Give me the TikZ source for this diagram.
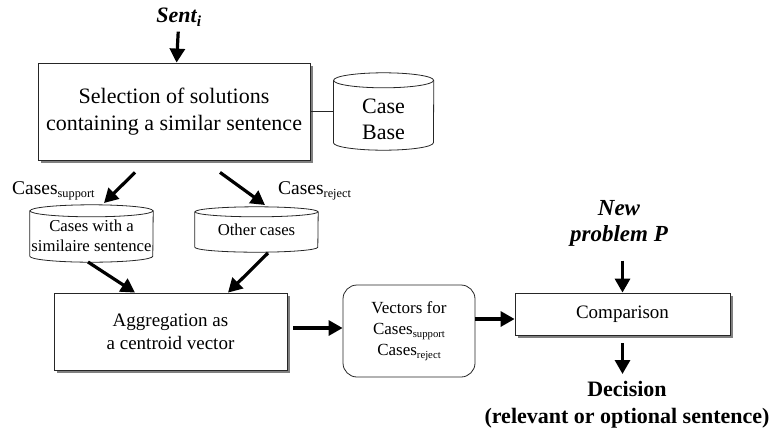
\documentclass[tikz,border=0pt]{standalone}
\usepackage{fontspec}
\setmainfont{Liberation Serif}
\usetikzlibrary{arrows.meta, shapes.geometric, positioning, calc, shadows}

\newcommand{\subind}[1]{\raisebox{-0.4ex}{\scalebox{0.63}{#1}}}
% cilindro dibujado alrededor de un nodo: nodo, semi-ancho, radio de la elipse
\newcommand{\cilindro}[3]{%
  \draw[borde] ($(#1.north west)+(0,#3)$) -- ($(#1.south west)+(0,-#3)$)
    arc[start angle=180, end angle=360, x radius=#2pt, y radius=#3pt]
    -- ($(#1.north east)+(0,#3)$);
  \draw[borde] ($(#1.north)+(0,#3)$) ellipse[x radius=#2pt, y radius=#3pt];
}

\begin{document}
\begin{tikzpicture}[
  x=1pt, y=-1pt,
  borde/.style={draw=black!85, line width=0.8pt},
  caja/.style={
    rectangle, borde, fill=white,
    align=center, inner sep=0pt,
    font=\fontsize{19}{23}\selectfont,
    drop shadow={shadow xshift=3pt, shadow yshift=-3pt,
                 fill=black!50, opacity=1}
  },
  cil/.style={rectangle, align=center, inner sep=0pt},
  arr/.style={-{Triangle[length=14pt,width=15pt]}, line width=3.2pt},
  lab/.style={font=\fontsize{19.5}{21}\selectfont, inner sep=0pt, anchor=base west}
]
  \useasboundingbox (0,0) rectangle (771,429);

  \node[font=\fontsize{22}{24}\selectfont\bfseries\itshape] (sent) at (179,17)
    {Sent\textsubscript{i}};
  \node[caja, minimum width=272pt, minimum height=97pt,
        font=\fontsize{22}{27}\selectfont] (sel) at (174,111.5)
    {Selection of solutions\\containing a similar sentence};
  \node[cil, minimum width=100pt, minimum height=77pt, text height=56pt,
        font=\fontsize{22}{26}\selectfont, right=23pt of sel] (base)
    {Case\\Base};

  \node[lab] (lsup) at (12,194) {Cases\subind{support}};
  \node[lab] (lrej) at (278,194) {Cases\subind{reject}};

  \node[cil, minimum width=123pt, minimum height=57pt, text height=36.4pt,
        font=\fontsize{16.7}{20}\selectfont] (cwith) at (91.5,233.5)
    {Cases with a\\similaire sentence};
  \node[cil, minimum width=123pt, minimum height=45pt,
        font=\fontsize{16.7}{20}\selectfont] (other) at (256.5,229.5)
    {Other cases};

  \node[caja, minimum width=233pt, minimum height=77pt] (agg) at (170.5,331.5)
    {Aggregation as\\a centroid vector};
  \node[rectangle, rounded corners=14pt, borde,
        minimum width=132pt, minimum height=92pt, align=center,
        font=\fontsize{17}{21}\selectfont] (vec) at (409,331)
    {Vectors for\\Cases\subind{support}\\Cases\subind{reject}};
  \node[caja, minimum width=215pt, minimum height=42pt] (comp) at (622.5,314)
    {Comparison};

  \node[font=\fontsize{23}{26}\selectfont\bfseries\itshape, align=center]
    (newp) at (619,223) {New\\problem P};
  \node[font=\fontsize{22}{27}\selectfont\bfseries, align=center]
    (dec) at (627,405) {Decision\\(relevant or optional sentence)};

  \cilindro{base}{50}{7.5}
  \cilindro{cwith}{61.5}{6}
  \cilindro{other}{61.5}{5}

  % connectors
  \draw[arr, shorten <=2pt] (sent) -- (sel);
  \draw[borde] (sel.east) -- (base.west);
  \draw[arr] ($(sel.south)+(-39,12)$) -- ($(cwith.center)+(12.5,-30.5)$);
  \draw[arr] ($(sel.south)+(46,12)$) -- ($(other.center)+(8.5,-24.5)$);
  \draw[arr] ($(cwith.center)+(-3.5,28.5)$) -- ($(agg.north)+(-35.5,0)$);
  \draw[arr] ($(other.center)+(11.5,23.5)$) -- ($(agg.north)+(57.5,0)$);

  \coordinate (a1) at ($(agg.east)+(6,-3.5)$);
  \draw[arr] (a1) -- (a1 -| vec.west);
  \coordinate (a2) at ($(vec.east)+(0,-12)$);
  \draw[arr] (a2) -- (a2 -| comp.west);

  \draw[arr, shorten <=11pt] (newp.south -| comp.north) -- (comp.north);
  \draw[arr, shorten <=8pt, shorten >=4pt] (comp.south) -- (comp.south |- dec.north);
\end{tikzpicture}
\end{document}
